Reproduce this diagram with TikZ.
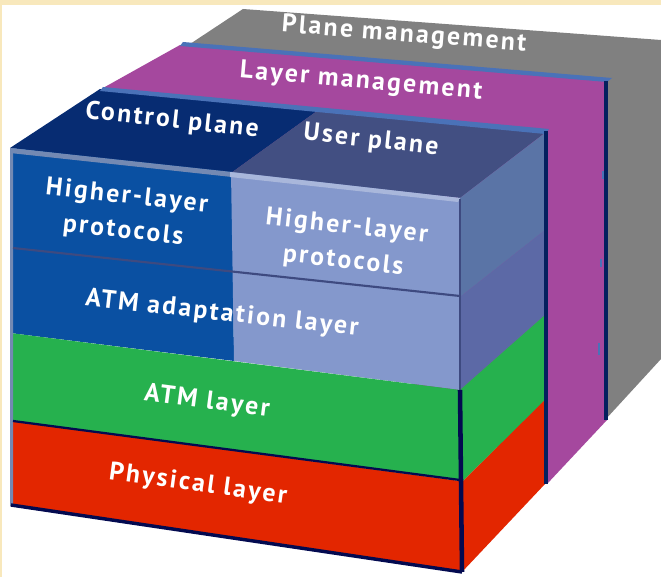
\documentclass[tikz,border=0pt]{standalone}
\usepackage{fontspec}
\setmainfont[LetterSpace=9]{PT Sans Bold}
\definecolor{cream}{HTML}{F8E8BC}
\definecolor{graybk}{HTML}{808080}
\definecolor{purp}{HTML}{A5489E}
\definecolor{stripb}{HTML}{4A72B8}
\definecolor{ctrl}{HTML}{072C72}
\definecolor{userp}{HTML}{424F82}
\definecolor{bluef}{HTML}{0A50A2}
\definecolor{lightf}{HTML}{8498CC}
\definecolor{sideA}{HTML}{5A74A6}
\definecolor{sideB}{HTML}{5C69A6}
\definecolor{greenf}{HTML}{26B14E}
\definecolor{redf}{HTML}{E32600}
\definecolor{navy}{HTML}{04205E}
\definecolor{darkn}{HTML}{030A50}
\definecolor{slate}{HTML}{3E4A80}
\tikzset{
  lbl/.style={text=white,font=\fontsize{19.3}{26}\selectfont,align=center,rotate=-6.3,inner sep=0pt},
  edge/.style={line width=2.8pt,draw=navy},
  tick/.style={line width=1.2pt,draw=stripb}
}
\begin{document}
\begin{tikzpicture}[x=0.75pt,y=-0.75pt]
\useasboundingbox (0,0) rectangle (661,577);
\fill[cream] (0,0) rectangle (661,577);
\fill[white] (2,5) rectangle (661,577);
% back plane
\fill[graybk] (243,9) -- (661,40) -- (661,359) -- (605,420) -- (400,300) -- (190,44) -- cycle;
% layer management
\fill[purp] (180,45) -- (607,81) -- (607,420) -- (547,484) -- (300,300) -- (103,88) -- cycle;
\fill[stripb] (183,42) -- (612,78) -- (607,82) -- (180,46) -- cycle;
% top faces
\fill[ctrl] (100,89) -- (317,111) -- (231,173) -- (10,148) -- cycle;
\fill[userp] (317,111) -- (546,132) -- (460,198) -- (231,173) -- cycle;
\fill[stripb] (103,87) -- (549,129) -- (545,134) -- (100,91) -- cycle;
% right side
\fill[sideA] (460,198) -- (545,133) -- (545,230) -- (460,297) -- cycle;
\fill[sideB] (460,297) -- (545,230) -- (545,315) -- (460,390) -- cycle;
\fill[greenf] (460,390) -- (545,315) -- (545,400) -- (460,484) -- cycle;
\fill[redf] (460,484) -- (545,400) -- (545,484) -- (462,572) -- cycle;
% front
\fill[bluef] (10,148) -- (232,172) -- (234,361) -- (10,333) -- cycle;
\fill[lightf] (231,172) -- (460,198) -- (460,390) -- (234,361) -- cycle;
\fill[greenf] (10,333) -- (460,390) -- (460,481) -- (10,421) -- cycle;
\fill[redf] (10,421) -- (460,481) -- (460,572) -- (10,506) -- cycle;
\fill[sideA!85!white] (10,148) -- (232,172) -- (232,177) -- (10,153) -- cycle;
\fill[lightf!70!white] (230,172) -- (460,198) -- (458,202) -- (230,177) -- cycle;
\fill[sideA!85!white] (10,148) -- (13,150) -- (13,506) -- (10,506) -- cycle;
% named edge coordinates
\coordinate (fl) at (13,248); \coordinate (fr) at (460,296);
\coordinate (gl) at (13,421); \coordinate (gr) at (460,480);
\coordinate (bl) at (11,505); \coordinate (br) at (462,572);
\coordinate (vt) at (460,199); \coordinate (vm) at (460,390);
\coordinate (a1) at (546,131); \coordinate (a2) at (546,484);
\coordinate (b1) at (606,81); \coordinate (b2) at (606,420);
\draw[line width=1.6pt,slate] (fl) -- (fr);
\draw[line width=1.7pt,darkn] (gl) -- (gr);
\draw[line width=2.6pt,darkn] (bl) -- (br);
\draw[line width=2pt,draw=slate] (vt) -- (vm);
\draw[line width=3.4pt,darkn] (vm) -- (br);
\draw[edge] (a1) -- (a2);
\draw[edge] (b1) -- (b2);
\draw[tick] (603,171) -- (603,179);
\draw[tick] (601,259) -- (601,267);
\draw[tick] (599,343) -- (599,355);
% labels
\node[lbl,rotate=1.8] (plane) at (404,35) {Plane management};
\node[lbl,rotate=1.3] (layer) at (361,82) {Layer management};
\node[lbl] (control) at (172,121) {Control plane};
\node[lbl] (user) at (371,141) {User plane};
\node[lbl] (hl) at (125,214) {Higher-layer\\protocols};
\node[lbl] (hr) at (345,244) {Higher-layer\\protocols};
\node[lbl] (aal) at (222,314) {ATM adaptation layer};
\node[lbl,rotate=-1.2] (atm) at (207,402) {ATM layer};
\node[lbl,rotate=-1.5] (phy) at (198,485) {Physical layer};
\end{tikzpicture}
\end{document}
